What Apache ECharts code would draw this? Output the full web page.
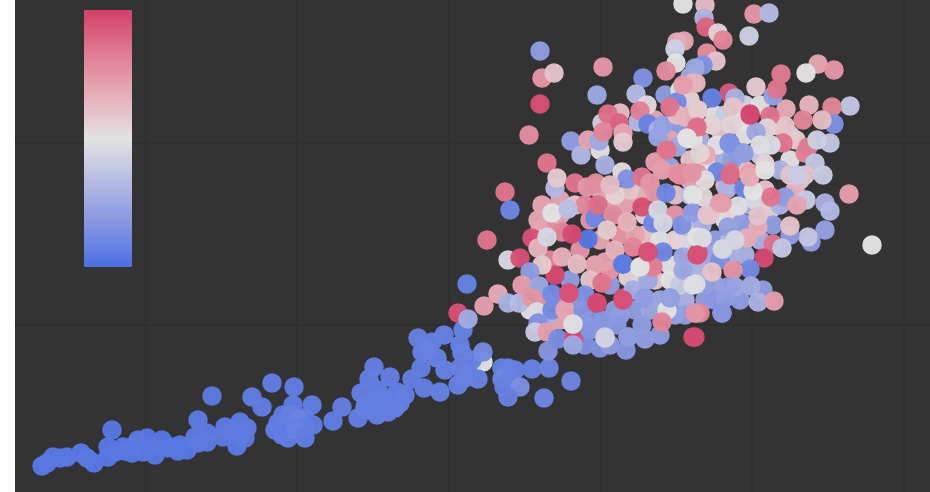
<!DOCTYPE html>
<html><head><meta charset="utf-8">
<style>html,body{margin:0;padding:0;background:#fff}#c{width:930px;height:492px}</style>
<script src="https://cdn.jsdelivr.net/npm/echarts@6/dist/echarts.min.js"></script>
</head><body><div id="c"></div>
<script>
// x, y (both read on the chart's own scale), colour score 0..1
const xGridValues=[146,297,449,601,752,904];
const yGridValues=[143,325];
const paletteColors=['#4A6FE3','#8595E1','#B5BBE3','#E2E2E2','#E6AFB9','#E07B91','#D33F6A'];
const backCloud=[[560,200,.7],[575,205,.6],[590,220,.75],[610,200,.7],[625,205,.7],[640,195,.65],[600,240,.7],[620,235,.75],[645,235,.6],[660,240,.5],[580,250,.75],[595,265,.7],[570,280,.2],[610,285,.2],[640,285,.55],[655,280,.6],[680,240,.4],[690,225,.5],[675,195,.6],[690,180,.7],[710,170,.55],[725,185,.65],[690,160,.6],[680,130,.2],[700,140,.3],[720,130,.6],[745,135,.5],[760,155,.4],[720,160,.3],[745,170,.6],[765,190,.6],[770,210,.55],[750,205,.3],[710,205,.25],[725,220,.5],[745,255,.3],[715,240,.2],[700,260,.3],[715,285,.25],[705,300,.2],[670,280,.5],[660,300,.25],[685,300,.3],[615,310,.2],[590,320,.15],[560,320,.7],[550,260,.8],[540,230,.6],[600,150,.5],[665,95,.2],[680,90,.5],[655,120,.7],[790,160,.5],[780,170,.3],[800,180,.4],[760,240,.3],[740,300,.2],
[550,225,.75],[560,215,.7],[585,205,.8],[600,190,.7],[630,190,.6],[645,215,.55],[635,235,.7],[610,270,.75],[590,280,.6],[575,300,.2],[560,300,.8],[545,300,.75],[530,310,.5],[545,320,.3],[585,325,.2],[600,330,.15],[620,315,.2],[635,310,.2],[650,310,.25],[680,285,.4],[700,275,.3],[670,265,.5],[690,245,.45],[710,255,.25],[730,255,.3],[715,300,.18],[725,298,.2],[705,285,.2],[685,315,.2],[675,315,.22],[660,335,.2],[585,345,.15],[600,348,.15],[610,345,.2],[675,240,.55],[705,160,.5],[670,140,.7],[715,115,.5],[690,100,.55],[725,115,.4],[745,105,.45],[760,105,.5],[790,135,.4],[690,195,.35],[735,215,.55],[755,200,.45],[780,205,.3],[745,240,.25],[730,240,.35]];
const lowerChain=[[42,466,.04],[47,463,.04],[53,457,.04],[60,458,.04],[67,457,.04],[81,453,.04],[87,458,.04],[94,463,.04],[112,430,.04],[108,447,.04],[108,457,.04],[115,452,.04],[123,447,.04],[125,451,.04],[132,453,.04],[135,445,.04],[138,440,.04],[147,438,.04],[143,452,.04],[150,446,.04],[162,440,.04],[155,455,.04],[167,448,.04],[172,447,.04],[180,445,.04],[178,451,.04],[187,450,.04],[198,420,.05],[198,443,.05],[195,437,.05],[207,433,.05],[207,442,.05],[212,396,.05],[225,427,.05],[223,437,.05],[232,432,.05],[240,422,.05],[247,428,.05],[242,433,.05],[245,438,.05],[237,446,.05],[252,397,.06],[262,407,.06],[272,383,.06],[294,387,.06],[293,405,.06],[312,405,.06],[283,415,.06],[278,423,.06],[290,415,.07],[305,418,.07],[285,425,.07],[298,420,.09],[305,427,.07],[275,430,.06],[282,435,.06],[288,438,.06],[296,430,.08],[305,438,.06],[313,425,.06],[333,421,.06]];
const midChain=[[483,362,.5],[342,407,.07],[358,418,.07],[361,393,.07],[369,379,.07],[374,367,.07],[377,415,.07],[373,403,.07],[365,407,.07],[385,405,.07],[368,410,.07],[378,390,.07],[390,377,.07],[382,397,.07],[397,392,.07],[400,403,.07],[405,395,.07],[388,412,.07],[395,408,.07],[412,379,.07],[421,368,.07],[424,388,.07],[418,338,.08],[422,352,.08],[432,342,.08],[428,350,.08],[444,335,.08],[437,358,.08],[445,370,.08],[440,392,.08],[458,385,.08],[458,313,.95],[463,330,.08],[460,345,.08],[462,353,.08],[472,360,.08],[460,368,.08],[483,352,.12],[467,284,.08],[468,319,.26],[468,373,.08],[478,379,.08],[465,378,.08],[502,368,.08],[508,368,.08],[515,370,.08],[502,379,.1],[511,378,.08],[504,387,.08],[520,387,.14],[508,397,.08],[532,369,.08],[549,368,.1],[544,398,.1],[571,381,.1],[484,306,.72],[498,294,.68],[508,303,.28],[519,303,.33]];
const rightCloud=[[849,194,.72],[872,245,.5],[825,203,.28],[830,211,.32],[825,230,.22],[811,242,.2],[808,237,.38],[790,235,.2],[773,225,.2],[742,223,.2],[728,227,.22],[720,260,.15],[795,190,.65],[785,197,.2],[771,197,.85],[806,200,.4],[797,205,.7],[790,226,.6],[790,175,.6],[805,175,.6],[797,175,.4],[823,175,.4],[758,227,.68],[758,216,.6],[747,238,.68],[773,244,.85],[782,248,.38],[764,258,.97],[750,269,.12],[733,270,.75],[763,290,.2],[751,286,.27],[735,287,.25],[728,287,.22],[758,302,.3],[774,301,.72],[722,313,.17],[696,313,.75],[695,337,.97],[697,268,.3],[712,272,.6],[696,284,.47],[702,238,.45],[722,249,.4],[698,253,.95],[735,240,.45],[727,189,.3],[744,188,.1],[753,191,.5],[703,197,.55],[693,195,.5],[705,180,.52],[738,206,.48],[722,203,.75],[710,215,.58],[702,225,.3],[730,175,.88],[750,177,.68],[765,170,.5]];
const upperRight=[[754,14,.75],[769,13,.33],[749,36,.42],[705,5,.62],[704,18,.3],[706,27,.9],[718,33,.55],[723,40,.8],[707,53,.78],[716,61,.6],[703,65,.15],[695,68,.25],[781,74,.83],[818,64,.7],[834,70,.75],[806,73,.5],[850,106,.38],[832,107,.8],[809,105,.65],[786,109,.68],[834,124,.15],[803,120,.8],[822,120,.62],[778,126,.6],[785,126,.6],[796,140,.58],[805,153,.8],[808,147,.83],[830,143,.38],[817,140,.42],[815,163,.38],[756,87,.58],[773,96,.22],[777,89,.85],[729,93,.93],[712,98,.08],[696,83,.65],[735,98,.28],[733,107,.6],[750,114,.98],[770,116,.85],[742,122,.5],[731,125,.55],[767,128,.55],[756,132,.25],[783,143,.85],[771,145,.47],[760,145,.48],[730,143,.17],[743,153,.17],[732,160,.2],[700,127,.85],[712,125,.55],[698,110,.55],[693,139,.5],[717,145,.5],[706,155,.68],[765,164,.55],[730,172,.85],[750,173,.72],[717,172,.1]];
const upperLeft=[[540,51,.2],[542,78,.75],[554,73,.6],[603,67,.75],[540,104,.95],[597,95,.25],[529,135,.78],[571,141,.2],[581,155,.32],[588,140,.7],[599,141,.25],[547,163,.85],[605,165,.28],[683,4,.5],[684,41,.7],[677,42,.68],[675,49,.42],[676,63,.5],[666,71,.78],[643,78,.15],[636,94,.33],[647,105,.53],[638,122,.33],[640,111,.82],[648,124,.08],[658,130,.28],[620,113,.62],[602,123,.42],[608,114,.87],[619,123,.9],[603,132,.8],[623,133,.7],[623,142,.58],[663,125,.22],[658,137,.23],[677,102,.12],[677,115,.6],[670,107,.85],[685,117,.65],[698,110,.58],[697,127,.87],[687,139,.5],[677,147,.25],[666,151,.87],[690,77,.25],[693,83,.65],[683,85,.72],[700,153,.55],[670,167,.23],[655,162,.72],[662,170,.72],[622,172,.52],[677,173,.75],[683,173,.8],[697,173,.75]];
const leftCloud=[[505,192,.85],[510,210,.1],[487,240,.85],[508,260,.45],[532,238,.95],[520,258,.95],[538,248,.65],[555,275,.97],[542,265,.58],[562,257,.67],[577,264,.62],[530,272,.2],[522,285,.72],[539,286,.25],[532,298,.75],[537,312,.47],[552,294,.12],[552,310,.12],[538,323,.15],[535,332,.4],[547,332,.72],[548,351,.17],[558,339,.13],[574,337,.95],[573,345,.25],[573,324,.5],[565,310,.7],[569,293,.95],[585,295,.15],[583,310,.17],[597,303,.97],[602,283,.85],[623,298,.95],[628,277,.55],[605,262,.72],[623,264,.08],[615,250,.65],[633,247,.8],[648,252,.93],[640,267,.5],[652,266,.78],[588,239,.03],[562,232,.8],[572,234,.97],[547,237,.45],[542,205,.7],[538,220,.7],[552,213,.5],[568,209,.35],[555,188,.33],[557,178,.58],[575,183,.85],[587,187,.75],[596,183,.78],[595,218,.1],[598,205,.87],[613,215,.78],[607,230,.58],[627,222,.65],[615,195,.55],[627,179,.15],[642,177,.85],[642,207,.95],[653,223,.1],[650,183,.75],[655,193,.75],[666,193,.1],[658,210,.45],[675,215,.75],[663,223,.45],[682,225,.15],[663,252,.1],[683,257,.25],[683,270,.25],[697,237,.5],[693,285,.48],[670,298,.2],[633,290,.27],[645,298,.25],[667,310,.5],[642,325,.2],[628,337,.2],[645,339,.2],[626,350,.17],[605,338,.47],[662,322,.8],[603,320,.18],[617,325,.18],[590,330,.17],[700,313,.8]];
const frontCloud=[[692,213,.2],[707,215,.6],[720,203,.72],[680,175,.78],[692,173,.75],[610,185,.62],[648,280,.25],[644,298,.2],[670,298,.22],[750,115,.98],[702,238,.47],[723,249,.45],[697,255,.95],[653,267,.82],[623,264,.05],[640,267,.5],[687,138,.5],[729,143,.15],[744,153,.2],[667,150,.85],[597,303,.97],[623,300,.95],[569,293,.95],[648,252,.95],[695,313,.75],[722,313,.17],[693,337,.97],[573,324,.48],[605,337,.43],[628,337,.2]];
const pointGroups=[backCloud,lowerChain,midChain,upperRight,upperLeft,rightCloud,leftCloud,frontCloud];
const chart=echarts.init(document.getElementById('c'),null,{renderer:'canvas'});
const gridStyle={show:true,lineStyle:{color:'#2f2f2f',width:2}};
chart.setOption({
  animation:false,
  grid:{left:15,right:0,top:0,bottom:0,show:true,backgroundColor:'#333333',borderWidth:0},
  xAxis:{type:'value',min:15,max:930,axisLine:{show:false},axisLabel:{show:false},axisTick:{show:false,customValues:xGridValues},splitLine:gridStyle},
  yAxis:{type:'value',inverse:true,min:0,max:492,axisLine:{show:false},axisLabel:{show:false},axisTick:{show:false,customValues:yGridValues},splitLine:gridStyle},
  visualMap:{type:'continuous',min:0,max:1,dimension:2,seriesIndex:0,calculable:false,showLabel:false,text:null,left:84,top:10,itemWidth:48,itemHeight:257,padding:0,borderRadius:0,itemStyle:{borderRadius:0},inRange:{color:paletteColors}},
  series:[{type:'scatter',symbolSize:19.5,silent:true,itemStyle:{opacity:.97},data:[].concat(...pointGroups)}]
});
</script></body></html>
